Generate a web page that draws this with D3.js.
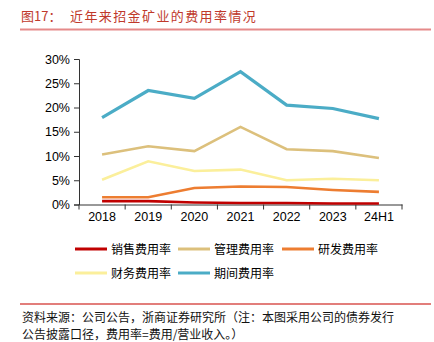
<!DOCTYPE html>
<html>
<head>
<meta charset="utf-8">
<script src="https://cdn.jsdelivr.net/npm/d3@7"></script>
<style>
  body { margin: 0; background: #fff; }
  svg text { font-family: "Noto Sans CJK SC", sans-serif; }
</style>
</head>
<body>
<div id="chart"></div>
<script>
// categories and series (percent)
var years = ["2018", "2019", "2020", "2021", "2022", "2023", "24H1"];
var sales = [0.7, 0.7, 0.4, 0.3, 0.3, 0.2, 0.2];
var admin = [10.3, 12.0, 11.0, 16.0, 11.4, 11.0, 9.6];
var rnd = [1.5, 1.5, 3.4, 3.7, 3.6, 3.0, 2.6];
var finance = [5.1, 8.9, 6.9, 7.2, 5.0, 5.3, 5.0];
var period = [17.9, 23.5, 21.9, 27.4, 20.5, 19.8, 17.7];
var yTicks = [0, 5, 10, 15, 20, 25, 30];

var seriesNames = ["销售费用率", "管理费用率", "研发费用率", "财务费用率", "期间费用率"];
var colors = ["#c00000", "#dcc07c", "#ed7d31", "#fbef9b", "#4bacc6"];
var seriesData = [sales, admin, rnd, finance, period];

var width = 434, height = 342;
var svg = d3.select("#chart").append("svg")
  .attr("width", width).attr("height", height);

// title
svg.append("text")
  .attr("x", 21).attr("y", 21)
  .attr("fill", "#c0392b")
  .style("font-size", "13px")
  .text("图17：");
svg.append("text")
  .attr("x", 70).attr("y", 21)
  .attr("fill", "#c0392b")
  .style("font-size", "13px")
  .style("letter-spacing", "1.4px")
  .text("近年来招金矿业的费用率情况");
svg.append("line")
  .attr("x1", 20).attr("x2", 431).attr("y1", 29.5).attr("y2", 29.5)
  .attr("stroke", "#e58a8a").attr("stroke-width", 2);

// scales
var x = d3.scaleBand().domain(years).range([79, 402]);
var y = d3.scaleLinear().domain([0, 30]).range([204.5, 59]);

// y axis
var yAxis = svg.append("g")
  .attr("transform", "translate(79,0)")
  .call(d3.axisLeft(y).tickValues(yTicks).tickSize(5).tickFormat(function (d) { return d + "%"; }));
yAxis.select(".domain").attr("stroke", "#333");
yAxis.selectAll(".tick line").attr("stroke", "#333");
yAxis.selectAll("text")
  .style("font-family", "'Liberation Sans', Arial, sans-serif")
  .style("font-size", "12.5px").attr("fill", "#000").attr("x", -9);

// x axis with ticks on band boundaries
var xAxis = svg.append("g")
  .attr("transform", "translate(0,204.5)")
  .call(d3.axisBottom(x).tickSize(0).tickPadding(8));
xAxis.select(".domain").attr("stroke", "#333");
xAxis.selectAll("text")
  .style("font-family", "'Liberation Sans', Arial, sans-serif")
  .style("font-size", "12.5px").attr("fill", "#000");
var bounds = years.map(function (d) { return x(d); }).concat([x.range()[1]]);
xAxis.selectAll(".bound").data(bounds).enter().append("line")
  .attr("x1", function (d) { return d; }).attr("x2", function (d) { return d; })
  .attr("y1", 0).attr("y2", 5)
  .attr("stroke", "#333");

// lines
var line = d3.line()
  .x(function (d, i) { return x(years[i]) + x.bandwidth() / 2; })
  .y(function (d) { return y(d); });

var drawOrder = [4, 1, 3, 2, 0];
drawOrder.forEach(function (k) {
  svg.append("path")
    .datum(seriesData[k])
    .attr("d", line)
    .attr("fill", "none")
    .attr("stroke", colors[k])
    .attr("stroke-width", k === 4 ? 3.2 : 2.6);
});

// legend
var legendPos = [[75, 249], [178, 249], [282, 249], [75, 273], [178, 273]];
seriesNames.forEach(function (name, i) {
  var p = legendPos[i];
  svg.append("line")
    .attr("x1", p[0]).attr("x2", p[0] + 32)
    .attr("y1", p[1]).attr("y2", p[1])
    .attr("stroke", colors[i]).attr("stroke-width", 3);
  svg.append("text")
    .attr("x", p[0] + 36).attr("y", p[1] + 4.5)
    .style("font-size", "12px").attr("fill", "#000")
    .text(name);
});

// source note
svg.append("line")
  .attr("x1", 20).attr("x2", 431).attr("y1", 304).attr("y2", 304)
  .attr("stroke", "#d9534f").attr("stroke-width", 1.5);
svg.append("text")
  .attr("x", 22).attr("y", 322)
  .style("font-size", "12px").attr("fill", "#111")
  .text("资料来源：公司公告，浙商证券研究所（注：本图采用公司的债券发行");
svg.append("text")
  .attr("x", 22).attr("y", 339)
  .style("font-size", "12px").attr("fill", "#111")
  .text("公告披露口径，费用率=费用/营业收入。）");
</script>
</body>
</html>
